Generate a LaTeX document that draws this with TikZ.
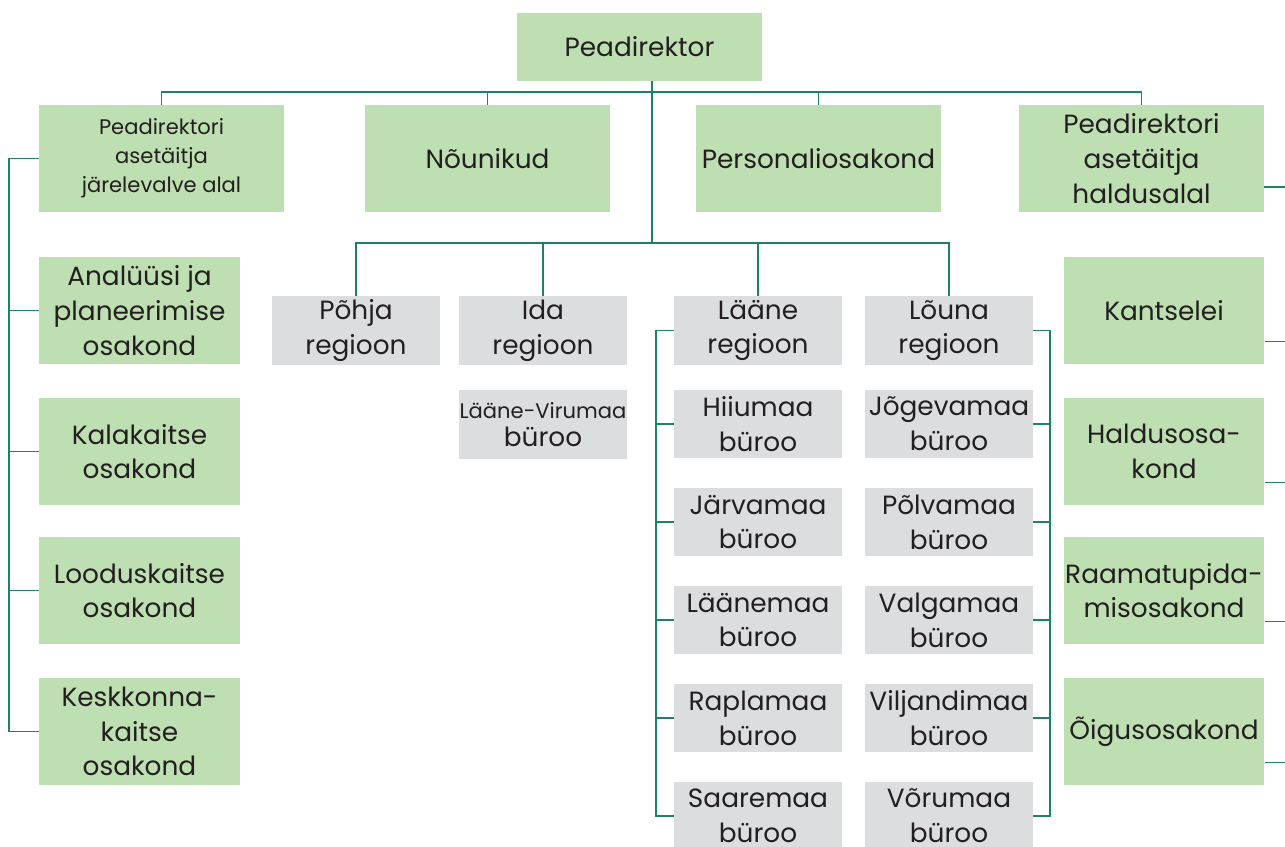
\documentclass[tikz,border=0pt]{standalone}
\usepackage{fontspec}
\setmainfont{Poppins}
\definecolor{boxgreen}{RGB}{190,223,178}
\definecolor{boxgray}{RGB}{220,221,223}
\definecolor{linkcol}{RGB}{30,130,105}
\definecolor{txtcol}{RGB}{35,31,32}
\tikzset{
  unit/.style={fill=boxgreen,text=txtcol,align=center,inner sep=0pt,
    minimum width=4.9cm,minimum height=2.14cm,font=\fontsize{15}{19.8}\selectfont},
  dept/.style={unit,minimum width=4.02cm},
  region/.style={unit,fill=boxgray,minimum width=3.36cm,minimum height=1.37cm},
  small/.style={font=\fontsize{12}{16.4}\selectfont},
  link/.style={draw=linkcol,line width=0.8pt}
}
\begin{document}
\begin{tikzpicture}[x=0.02cm,y=-0.02cm]
\useasboundingbox (0,0) rectangle (1285,846);
\node[unit,minimum height=1.36cm] (top) at (639.5,47) {Peadirektor};
\node[unit,small] (dep1) at (161.5,158.5) {Peadirektori\\asetäitja\\järelevalve alal};
\node[unit] (dep2) at (487.5,158.5) {\raisebox{-4pt}{Nõunikud}};
\node[unit] (dep3) at (818.5,158.5) {Personaliosakond};
\node[unit] (dep4) at (1141.5,158.5) {Peadirektori\\asetäitja\\haldusalal};
\node[dept] (l1) at (139.5,310.5) {Analüüsi ja\\planeerimise\\osakond};
\node[dept] (l2) at (139.5,451.5) {Kalakaitse\\osakond};
\node[dept] (l3) at (139.5,590.5) {Looduskaitse\\osakond};
\node[dept] (l4) at (139.5,731.5) {Keskkonna-\\kaitse\\osakond};
\node[dept] (r1) at (1164,310.5) {Kantselei};
\node[dept] (r2) at (1164,451.5) {Haldusosa-\\kond};
\node[dept] (r3) at (1164,590.5) {Raamatupida-\\misosakond};
\node[dept] (r4) at (1164,731.5) {Õigusosakond};
\node[region] (pohja) at (356,330.5) {Põhja\\regioon};
\node[region] (ida) at (543,330.5) {Ida\\regioon};
\node[region] (laane) at (758,330.5) {Lääne\\regioon};
\node[region] (louna) at (949,330.5) {Lõuna\\regioon};
\node[region,small] (lvir) at (543,424.5) {Lääne-Virumaa\\\fontsize{15}{16.4}\selectfont büroo};
\node[region] (w1) at (758,424) {Hiiumaa\\büroo};
\node[region] (w2) at (758,522) {Järvamaa\\büroo};
\node[region] (w3) at (758,620) {Läänemaa\\büroo};
\node[region] (w4) at (758,718) {Raplamaa\\büroo};
\node[region] (w5) at (758,816) {Saaremaa\\büroo};
\node[region] (s1) at (949,424) {Jõgevamaa\\büroo};
\node[region] (s2) at (949,522) {Põlvamaa\\büroo};
\node[region] (s3) at (949,620) {Valgamaa\\büroo};
\node[region] (s4) at (949,718) {Viljandimaa\\büroo};
\node[region] (s5) at (949,816) {Võrumaa\\büroo};
\coordinate (bar) at (652,92);
\coordinate (trunk) at (652,243);
\coordinate (lbar) at (9,0);
\coordinate (rbar) at (1292,0);
\coordinate (wbar) at (656,0);
\coordinate (sbar) at (1050,0);
\draw[link] (trunk |- top.south) -- (trunk);
\draw[link] (dep1.north) |- (bar) -| (dep4.north);
\foreach \n in {dep2,dep3} \draw[link] (\n.north) -- (\n.north |- bar);
\draw[link] (pohja.north) |- (trunk) -| (louna.north);
\foreach \n in {ida,laane} \draw[link] (\n.north) -- (\n.north |- trunk);
\draw[link] (dep1.west) -| (lbar |- l4.west) -- (l4.west);
\foreach \n in {l1,l2,l3} \draw[link] (\n.west) -- (\n.west -| lbar);
\draw[link] ([yshift=-0.57cm]dep4.east) -| (rbar |- r4.east);
\foreach \n in {r1,r2,r3,r4} \draw[link] ([yshift=-0.62cm]\n.east) -- ++(30,0);
\draw[link] (laane.west) -| (wbar |- w5.west) -- (w5.west);
\foreach \n in {w1,w2,w3,w4} \draw[link] (\n.west) -- (\n.west -| wbar);
\draw[link] (louna.east) -| (sbar |- s5.east) -- (s5.east);
\foreach \n in {s1,s2,s3,s4} \draw[link] (\n.east) -- (\n.east -| sbar);
\end{tikzpicture}
\end{document}
